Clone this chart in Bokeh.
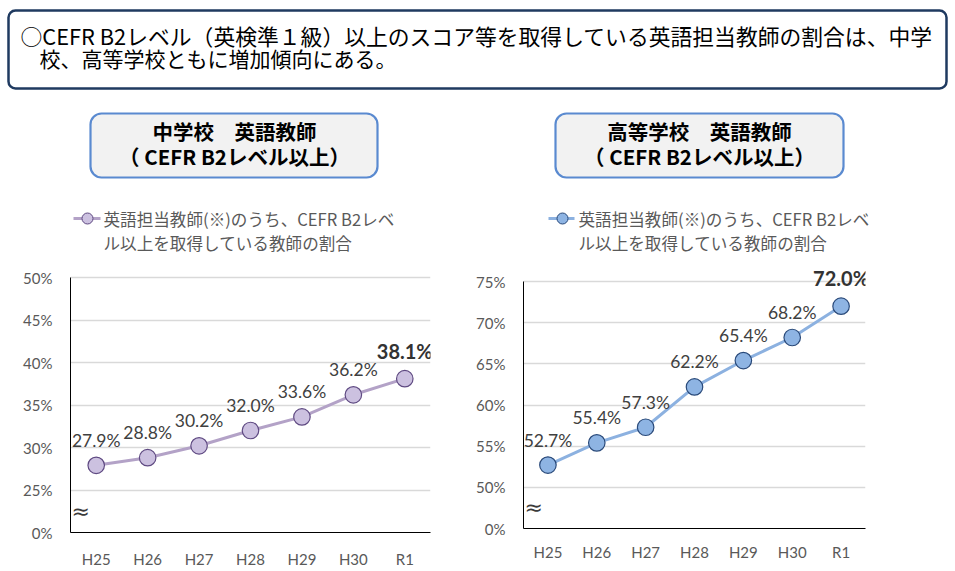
from bokeh.plotting import figure
from bokeh.models import FactorRange, Range1d, FixedTicker, BoxAnnotation, Label, LabelSet, ColumnDataSource
from bokeh.layouts import column, row
from bokeh.embed import file_html
from bokeh.resources import INLINE
from bokeh.core.properties import value

# ---------------- data ----------------
years = ["H25", "H26", "H27", "H28", "H29", "H30", "R1"]
jhs_values = [27.9, 28.8, 30.2, 32.0, 33.6, 36.2, 38.1]   # 中学校
hs_values = [52.7, 55.4, 57.3, 62.2, 65.4, 68.2, 72.0]    # 高等学校
jhs_ticks = [25, 30, 35, 40, 45, 50]
hs_ticks = [50, 55, 60, 65, 70, 75]
jhs_base = 20   # axis position labelled "0%" below the break
hs_base = 45
zero_label = "0%"

header_lines = ["○CEFR  B2レベル（英検準１級）以上のスコア等を取得している英語担当教師の割合は、中学",
                "校、高等学校ともに増加傾向にある。"]
jhs_title = ["中学校　英語教師", "（ CEFR B2レベル以上）"]
hs_title = ["高等学校　英語教師", "（ CEFR B2レベル以上）"]
legend_lines = ["英語担当教師(※)のうち、CEFR B2レベ", "ル以上を取得している教師の割合"]

JP = "Noto Sans CJK JP"
NUM = "Lato"

# ---------------- top decoration ----------------
TOP_W, TOP_H = 955, 255
top = figure(width=TOP_W, height=TOP_H, x_range=Range1d(0, TOP_W), y_range=Range1d(TOP_H, 0),
             x_axis_type=None, y_axis_type=None, output_backend="svg", toolbar_location=None,
             min_border=0)
top.grid.visible = False
top.outline_line_color = None

top.add_layout(BoxAnnotation(left=8, right=946, top=10, bottom=88, border_radius=7,
                             line_color="#1f3a60", line_alpha=1, line_width=2.5,
                             fill_color="white", fill_alpha=1))
top.add_layout(Label(x=20, y=35, text=header_lines[0], text_font=JP, text_font_size="21.8px",
                     text_color="#000000", text_baseline="middle", text_align="left"))
top.add_layout(Label(x=39, y=57, text=header_lines[1], text_font=JP, text_font_size="21px",
                     text_color="#000000", text_baseline="middle", text_align="left"))

for (l, r, cx, title) in [(90, 377, 234, jhs_title), (555, 843, 699, hs_title)]:
    top.add_layout(BoxAnnotation(left=l, right=r, top=113, bottom=177, border_radius=11,
                                 line_color="#5a8ad0", line_alpha=1, line_width=2.2,
                                 fill_color="#f2f2f2", fill_alpha=1))
    top.add_layout(Label(x=cx, y=130, text=title[0], text_font=JP, text_font_size="20.5px",
                         text_font_style="bold", text_color="#000000",
                         text_align="center", text_baseline="middle"))
    top.add_layout(Label(x=cx, y=155, text=title[1], text_font=JP, text_font_size="20.5px",
                         text_font_style="bold", text_color="#000000",
                         text_align="center", text_baseline="middle"))

legend_styles = [(73, 100, 87, 103, "#b3a2c7", "#ccc1e0", "#5f4a82"),
                 (548, 574, 562, 578, "#8cb1e0", "#8eb4e3", "#2a4a7a")]
for (x0, x1, cx, tx, lc, fc, oc) in legend_styles:
    top.line([x0, x1], [218, 218], line_color=lc, line_width=3)
    top.scatter([cx], [218], size=11, fill_color=fc, line_color=oc, line_width=1)
    top.add_layout(Label(x=tx, y=218, text=legend_lines[0], text_font=JP, text_font_size="16.6px",
                         text_color="#595959", text_baseline="middle"))
    top.add_layout(Label(x=tx, y=242, text=legend_lines[1], text_font=JP, text_font_size="16.6px",
                         text_color="#595959", text_baseline="middle"))


# ---------------- charts ----------------
def make_chart(vals, ticks, base, fw, plot_h, pad_top, borders, line_color, fill_color,
               outline_color, standoff_x):
    bl, br, bt, bb = borders
    span = ticks[-1] - base
    y_end = ticks[-1] + pad_top * span / plot_h   # head-room for the value labels
    p = figure(frame_width=fw, frame_height=plot_h + pad_top, x_range=FactorRange(factors=years),
               y_range=Range1d(base, y_end), output_backend="svg", toolbar_location=None,
               min_border_left=bl, min_border_right=br, min_border_top=bt, min_border_bottom=bb)
    p.outline_line_color = None
    p.xgrid.visible = False
    p.ygrid.grid_line_color = "#d9d9d9"
    p.ygrid.grid_line_width = 1.5
    p.yaxis.ticker = FixedTicker(ticks=[base] + ticks)
    p.yaxis.bounds = (base, ticks[-1])
    overrides = {base: zero_label}
    overrides.update({t: f"{t}%" for t in ticks})
    p.yaxis.major_label_overrides = overrides
    for ax in (p.xaxis[0], p.yaxis[0]):
        ax.major_tick_line_color = None
        ax.major_tick_out = 0
        ax.major_tick_in = 0
        ax.minor_tick_line_color = None
        ax.axis_line_color = "#000000"
        ax.axis_line_width = 1
        ax.major_label_text_font = NUM
        ax.major_label_text_font_size = "15px"
        ax.major_label_text_color = "#595959"
    p.yaxis.major_label_standoff = 18
    p.xaxis.major_label_standoff = standoff_x

    src = ColumnDataSource(dict(x=years, y=vals, label=[f"{v:.1f}%" for v in vals]))
    p.line("x", "y", source=src, line_color=line_color, line_width=3)
    p.scatter("x", "y", source=src, size=16.5, fill_color=fill_color, line_color=outline_color,
              line_width=1.2)

    reg = ColumnDataSource(dict(x=years[:-1], y=vals[:-1], label=[f"{v:.1f}%" for v in vals[:-1]]))
    last = ColumnDataSource(dict(x=years[-1:], y=vals[-1:], label=[f"{v:.1f}%" for v in vals[-1:]]))
    p.add_layout(LabelSet(x="x", y="y", text="label", source=reg, text_align="center",
                          text_baseline="middle", y_offset=25, text_font=value(NUM),
                          text_font_size=value("17.5px"), text_color="#404040"))
    p.add_layout(LabelSet(x="x", y="y", text="label", source=last, text_align="center",
                          text_baseline="middle", y_offset=28, text_font=value(NUM),
                          text_font_size=value("20px"), text_font_style="bold", text_color="#333333"))

    # axis-break mark (kept inside the frame so it is not clipped)
    p.add_layout(Label(x=0, y=(base + ticks[0]) / 2, text="≈", text_align="left",
                       text_baseline="middle", text_font="DejaVu Sans", text_font_size="22px",
                       text_color="#3a3a3a", x_offset=1))
    return p


# both frames start at the same height (rows align frame tops); head-room differs
left = make_chart(jhs_values, jhs_ticks, jhs_base, 360, 255, 20, (70, 40, 2, 39),
                  "#b3a2c7", "#ccc1e0", "#5f4a82", 17)
right = make_chart(hs_values, hs_ticks, hs_base, 342, 247, 24, (53, 90, 2, 43),
                   "#8cb1e0", "#8eb4e3", "#2a4a7a", 14)

page = column(top, row(left, right))
open("out.html", "w").write(file_html(page, INLINE))
